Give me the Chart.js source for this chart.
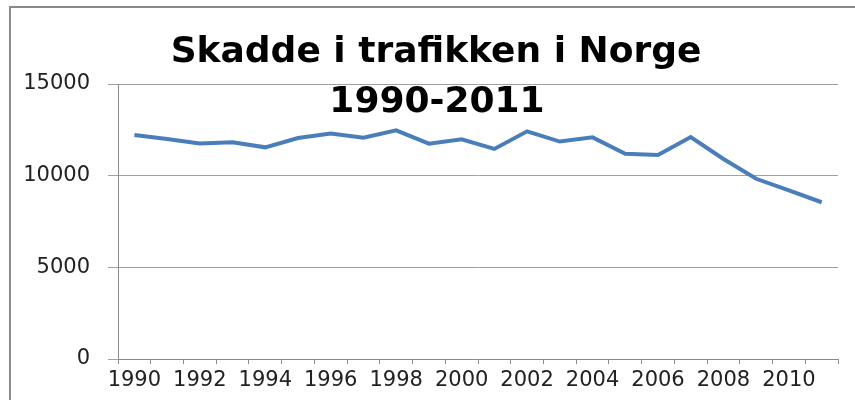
<!DOCTYPE html>
<html>
<head>
<meta charset="utf-8">
<script src="https://cdn.jsdelivr.net/npm/chart.js@4"></script>
<style>
  html, body { margin: 0; padding: 0; background: #fff; overflow: hidden; }
  #wrap { width: 855px; height: 400px; position: relative; }
  #frame { position: absolute; left: 9px; top: 6px; width: 846px; height: 394px;
           border-top: 2px solid #8a8a8a; border-left: 2px solid #8a8a8a; box-sizing: border-box; }
  canvas { position: relative; }
</style>
</head>
<body>
<div id="wrap"><div id="frame"></div><canvas id="skaddeChart"></canvas></div>
<script>
const years = ["1990", "1991", "1992", "1993", "1994", "1995", "1996", "1997", "1998", "1999", "2000",
               "2001", "2002", "2003", "2004", "2005", "2006", "2007", "2008", "2009", "2010", "2011"];
const skadde = [12220, 12000, 11760, 11820, 11545, 12050, 12300, 12070, 12470, 11745, 11980,
                11460, 12420, 11860, 12090, 11200, 11130, 12110, 10910, 9830, 9200, 8550];
const yTicks = [0, 5000, 10000, 15000];
const titleLines = ["Skadde i trafikken i Norge", "1990-2011"];

// tittel oppå plottet, som i Excel-bildet
const titlePlugin = {
    id: "overlayTitle",
    afterDraw(chart) {
        const ctx = chart.ctx;
        ctx.save();
        ctx.fillStyle = "#000";
        ctx.font = "bold 36px 'DejaVu Sans'";
        ctx.textAlign = "center";
        ctx.textBaseline = "alphabetic";
        ctx.fillText(titleLines[0], 436, 62);
        ctx.fillText(titleLines[1], 437, 112);
        ctx.restore();
    }
};

new Chart(document.getElementById("skaddeChart"), {
    type: "line",
    data: {
        labels: years,
        datasets: [{
            label: "Skadde",
            data: skadde,
            borderColor: "#4a7ebb",
            borderWidth: 4,
            pointRadius: 0,
            tension: 0,
            fill: false
        }]
    },
    options: {
        responsive: true,
        maintainAspectRatio: false,
        animation: false,
        layout: { padding: { top: 84, right: 17, bottom: 0, left: 0 } },
        plugins: {
            legend: { display: false },
            title: { display: false },
            tooltip: { enabled: false }
        },
        scales: {
            x: {
                type: "category",
                offset: true,
                afterFit: scale => { scale.height = 41; },
                border: { color: "#8a8a8a", width: 1 },
                grid: { drawOnChartArea: false, drawTicks: true, tickLength: 5, color: "#8a8a8a", offset: true },
                ticks: {
                    autoSkip: false,
                    maxRotation: 0,
                    padding: 4,
                    color: "#222",
                    font: { family: "'DejaVu Sans'", size: 21 },
                    callback: (v, i) => (i % 2 === 0 ? years[i] : "")
                }
            },
            y: {
                min: 0,
                max: 15000,
                afterFit: scale => { scale.width = 118; },
                afterBuildTicks: scale => { scale.ticks = yTicks.map(v => ({ value: v })); },
                border: { color: "#8a8a8a", width: 1 },
                grid: { color: "#a0a0a0", lineWidth: 1, tickLength: 10 },
                ticks: {
                    padding: 18,
                    color: "#222",
                    font: { family: "'DejaVu Sans'", size: 21 },
                    callback: value => String(value)
                }
            }
        }
    },
    plugins: [titlePlugin]
});
</script>
</body>
</html>
